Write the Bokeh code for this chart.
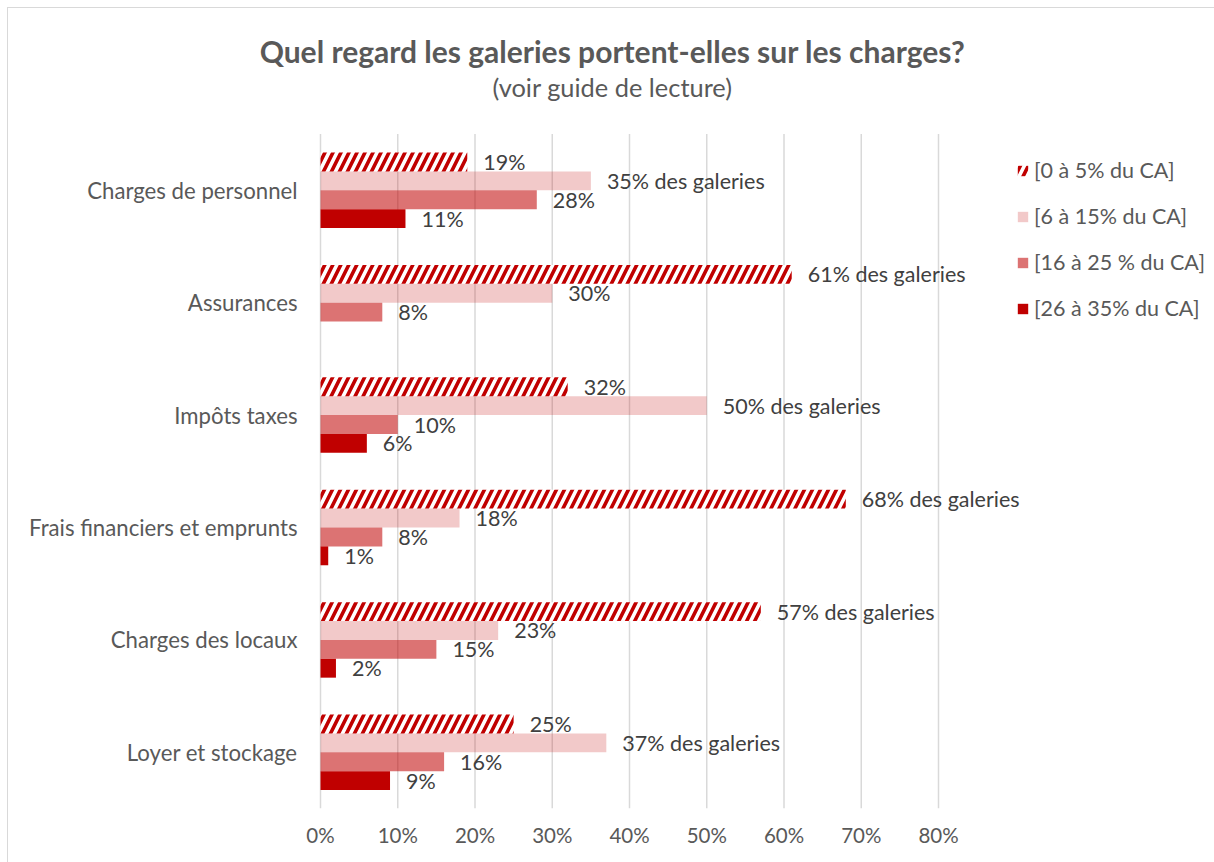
from bokeh.plotting import figure
from bokeh.models import (ColumnDataSource, Range1d, FixedTicker, Legend, LegendItem,
                          Label, CustomJSTickFormatter)
from bokeh.core.properties import value
from bokeh.embed import file_html
from bokeh.resources import INLINE

# ---- data ----
categories = ["Charges de personnel", "Assurances", "Impôts taxes",
              "Frais financiers et emprunts", "Charges des locaux", "Loyer et stockage"]
series_names = ["[0 à 5% du CA]", "[6 à 15% du CA]", "[16 à 25 % du CA]", "[26 à 35% du CA]"]
s_0_5 = [19, 61, 32, 68, 57, 25]
s_6_15 = [35, 30, 50, 18, 23, 37]
s_16_25 = [28, 8, 10, 8, 15, 16]
s_26_35 = [11, 0, 6, 1, 2, 9]
x_ticks = [0, 10, 20, 30, 40, 50, 60, 70, 80]
title_text = "Quel regard les galeries portent-elles sur les charges?"
subtitle_text = "(voir guide de lecture)"

series_values = [s_0_5, s_6_15, s_16_25, s_26_35]
n_cat = len(categories)

FONT = "Lato"
GREY = "#595959"
LABEL_GREY = "#404040"

# ---- layout (figure placed at page offset 8,8; frame covers whole figure above the x axis) ----
W, H = 1206, 854
ZERO_X = 312          # figure px where 0% sits
BOTTOM = 54           # space below frame (x axis labels)
FRAME_H = H - BOTTOM
PX_PER_PCT = 7.725
PX_PER_CAT = 112.4
x_start = -ZERO_X / PX_PER_PCT
x_end = (W - ZERO_X) / PX_PER_PCT
y_top = n_cat - FRAME_H / PX_PER_CAT

p = figure(width=W, height=H, output_backend="svg", toolbar_location=None,
           x_range=Range1d(x_start, x_end), y_range=Range1d(n_cat, y_top),
           min_border_left=0, min_border_right=0, min_border_top=0, min_border_bottom=BOTTOM)
p.outline_line_color = None
p.background_fill_color = "white"
p.border_fill_color = "white"
p.styles = {"margin": "8px 0 0 8px", "outline": "1px solid #D9D9D9"}

# gridlines limited to the category area
p.xgrid.grid_line_color = None
p.ygrid.grid_line_color = None
p.segment(x0=x_ticks, y0=[0] * len(x_ticks), x1=x_ticks, y1=[n_cat] * len(x_ticks),
          line_color="#D9D9D9", line_width=1.5)

bar_h = 0.168
styles = [
    dict(fill_color="white", hatch_pattern="/", hatch_color="#C00000", hatch_scale=16, hatch_weight=3.6),
    dict(fill_color="#C00000", fill_alpha=0.21),
    dict(fill_color="#C00000", fill_alpha=0.55),
    dict(fill_color="#C00000", fill_alpha=1.0),
]

renderers = []
for k, vals in enumerate(series_values):
    ys = [i + 0.5 + (k - 1.5) * bar_h for i in range(n_cat)]
    src = ColumnDataSource(dict(y=ys, right=vals))
    r = p.hbar(y="y", left=0, right="right", height=bar_h, source=src, line_color=None, **styles[k])
    renderers.append(r)

# data labels
for k, vals in enumerate(series_values):
    xs, ys, txt = [], [], []
    for i, v in enumerate(vals):
        if v <= 0:
            continue
        group_max = max(sv[i] for sv in series_values)
        xs.append(v)
        ys.append(i + 0.5 + (k - 1.5) * bar_h)
        txt.append(f"{v}%" + (" des galeries" if v == group_max else ""))
    src = ColumnDataSource(dict(x=xs, y=ys, t=txt))
    p.text(x="x", y="y", text="t", source=src, x_offset=16, text_baseline="middle",
           text_align="left", text_font=value(FONT), text_font_size="21.5px", text_color=LABEL_GREY)

# category labels (left of the 0% line)
cat_src = ColumnDataSource(dict(x=[0] * n_cat, y=[i + 0.5 for i in range(n_cat)], t=categories))
p.text(x="x", y="y", text="t", source=cat_src, x_offset=-23, text_baseline="middle",
       text_align="right", text_font=value(FONT), text_font_size="22.2px", text_color=GREY)

# axes
p.yaxis.visible = False
p.xaxis.ticker = FixedTicker(ticks=x_ticks)
p.xaxis.formatter = CustomJSTickFormatter(code="return tick + '%';")
p.xaxis.axis_line_color = None
p.xaxis.major_tick_line_color = None
p.xaxis.minor_tick_line_color = None
p.xaxis.major_label_text_font = FONT
p.xaxis.major_label_text_font_size = "20.5px"
p.xaxis.major_label_text_color = GREY
p.xaxis.major_label_standoff = 8

# legend (inside the frame, to the right of the 80% line)
legend = Legend(items=[LegendItem(label=n, renderers=[r]) for n, r in zip(series_names, renderers)],
                location=(1008, 487), orientation="vertical", padding=0, margin=0,
                glyph_width=13, glyph_height=13, label_height=22, spacing=20, label_standoff=5,
                label_text_font=FONT, label_text_font_size="21.5px", label_text_color=GREY,
                border_line_color=None, background_fill_alpha=0)
p.add_layout(legend, "center")

# titles (screen units relative to the frame)
p.add_layout(Label(x=604, y=FRAME_H - 42, x_units="screen", y_units="screen", text=title_text,
                   text_align="center", text_baseline="middle", text_font=FONT,
                   text_font_size="30px", text_font_style="bold", text_color=GREY))
p.add_layout(Label(x=604, y=FRAME_H - 78, x_units="screen", y_units="screen", text=subtitle_text,
                   text_align="center", text_baseline="middle", text_font=FONT,
                   text_font_size="25.4px", text_color=GREY))

open("out.html", "w").write(file_html(p, INLINE))
